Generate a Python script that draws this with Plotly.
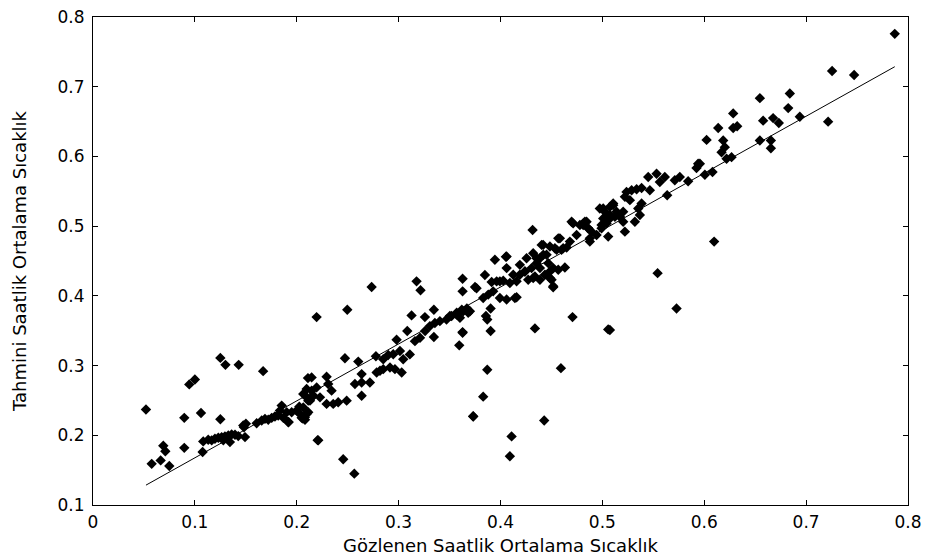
import plotly.graph_objects as go

# Observed (x) vs predicted (y) normalized hourly mean temperature
obs_x = [
    0.052, 0.125, 0.130, 0.143, 0.167, 0.211, 0.0945, 0.100, 0.0896, 0.106, 0.125,
    0.069, 0.071, 0.0896, 0.0576, 0.0664, 0.0749, 0.1076, 0.1475, 0.192, 0.206, 0.2205,
    0.2735, 0.3176, 0.3215, 0.3628, 0.3628, 0.375, 0.2195, 0.2496, 0.3127, 0.3258, 0.3346,
    0.3085, 0.298, 0.3346, 0.3628, 0.3595, 0.2473, 0.2604, 0.2777,
    0.2849, 0.2898, 0.2947, 0.3013, 0.3045, 0.311, 0.316, 0.321, 0.326, 0.3307, 0.3356,
    0.3405, 0.347, 0.352, 0.357, 0.362, 0.367, 0.370,
    0.2817, 0.2784, 0.2849, 0.2915, 0.2964, 0.303, 0.2637, 0.2571, 0.2637, 0.2718, 0.2637,
    0.2146, 0.2293, 0.2097, 0.2195, 0.2309, 0.2342, 0.2162, 0.2113, 0.2228, 0.2293, 0.2358,
    0.2407, 0.249, 0.2064, 0.208, 0.2031, 0.2211, 0.2456, 0.2565, 0.3732,
    0.4315, 0.3945, 0.4053, 0.3847, 0.3765, 0.3913, 0.3962, 0.4027, 0.4092, 0.383, 0.388,
    0.3928, 0.3994, 0.406, 0.4158, 0.3503, 0.3569, 0.3634, 0.3683, 0.3602, 0.3857, 0.387,
    0.3903, 0.3628, 0.3903, 0.4338, 0.4707, 0.5057, 0.387, 0.4593, 0.383, 0.3732, 0.4429,
    0.4109, 0.4092,
    0.419, 0.424, 0.4305, 0.4354, 0.4387, 0.4452, 0.4485, 0.4501, 0.4517, 0.4632, 0.4583,
    0.4419, 0.4551, 0.4615, 0.4681, 0.4713, 0.4812, 0.4845, 0.4877, 0.4943, 0.4992, 0.5008,
    0.5041, 0.5074, 0.4338, 0.4387, 0.4256, 0.4321,
    0.6023, 0.6186, 0.6202, 0.617, 0.6219, 0.594, 0.5924, 0.6006, 0.6081, 0.545, 0.5532,
    0.5564, 0.5613, 0.5711, 0.576, 0.5842, 0.5636, 0.5237, 0.5287, 0.5336, 0.5385, 0.5466,
    0.5221, 0.527, 0.5385, 0.5352, 0.5368, 0.5319, 0.4975, 0.5025, 0.5074, 0.5106, 0.5139,
    0.5204, 0.5008, 0.5074, 0.4992, 0.5041, 0.5123, 0.5204, 0.4812, 0.4861, 0.4877, 0.5057,
    0.5221, 0.6097, 0.5542, 0.5728, 0.5074,
    0.787, 0.7255, 0.7471, 0.6546, 0.684, 0.6824, 0.6284, 0.6137, 0.6284, 0.6323, 0.6578,
    0.6676, 0.6732, 0.6938, 0.7216, 0.6546, 0.6654, 0.6654, 0.6268, 0.5957,
    0.1082, 0.1131, 0.1165, 0.1197, 0.123, 0.1263, 0.1295, 0.1328, 0.1361, 0.1394, 0.1426,
    0.1344, 0.1279, 0.1492, 0.1482, 0.1501, 0.1606, 0.1656, 0.1688, 0.172, 0.1754, 0.1786,
    0.1818, 0.1835, 0.1852, 0.1868, 0.1917, 0.1901, 0.195, 0.1999, 0.2025, 0.2048, 0.2081,
    0.2097, 0.2113, 0.2064, 0.2097, 0.213, 0.2162, 0.2146,
    0.5106, 0.5172, 0.4698, 0.4779, 0.4828, 0.4861, 0.4747, 0.4894,
    0.4567, 0.4404, 0.4485, 0.4534, 0.4599, 0.4649, 0.4354, 0.442, 0.4469, 0.4518, 0.4567,
    0.4387, 0.4436, 0.4321, 0.4485, 0.4518, 0.406, 0.406, 0.4125, 0.419, 0.424, 0.4272,
    0.4158, 0.4141, 0.3994,
]
pred_y = [
    0.237, 0.311, 0.301, 0.301, 0.292, 0.282, 0.273, 0.280, 0.225, 0.232, 0.223,
    0.185, 0.177, 0.182, 0.159, 0.164, 0.156, 0.176, 0.214, 0.219, 0.224, 0.193,
    0.4127, 0.4208, 0.408, 0.4246, 0.4065, 0.4127, 0.3695, 0.380, 0.372, 0.3695, 0.380,
    0.3495, 0.337, 0.341, 0.348, 0.329, 0.3106, 0.3057, 0.3134,
    0.309, 0.3151, 0.3162, 0.321, 0.309, 0.316, 0.335, 0.340, 0.3495, 0.3566, 0.361,
    0.3637, 0.366, 0.371, 0.3757, 0.380, 0.382, 0.378,
    0.2925, 0.290, 0.2949, 0.2972, 0.2949, 0.290, 0.2878, 0.2735, 0.2758, 0.2758, 0.2568,
    0.283, 0.284, 0.2664, 0.2687, 0.2735, 0.264, 0.2568, 0.2497, 0.2544, 0.245, 0.245,
    0.2473, 0.2497, 0.240, 0.226, 0.2307, 0.1927, 0.1656, 0.145, 0.2273,
    0.4945, 0.4517, 0.456, 0.430, 0.411, 0.4198, 0.4208, 0.4218, 0.4184, 0.397, 0.4018,
    0.4065, 0.397, 0.3947, 0.398, 0.371, 0.3733, 0.378, 0.3756, 0.3685, 0.371, 0.366,
    0.3818, 0.347, 0.3495, 0.3533, 0.3695, 0.3519, 0.2939, 0.2963, 0.2554, 0.2269, 0.2212,
    0.1984, 0.1699,
    0.4303, 0.435, 0.4398, 0.4469, 0.454, 0.4589, 0.435, 0.4232, 0.4122, 0.4407, 0.4825,
    0.4731, 0.466, 0.4683, 0.4778, 0.5039, 0.5016, 0.5063, 0.4778, 0.4874, 0.4968, 0.5253,
    0.511, 0.5159, 0.4279, 0.4232, 0.454, 0.4611,
    0.6237, 0.6228, 0.6133, 0.6061, 0.5966, 0.5895, 0.5833, 0.5738, 0.5776, 0.5705, 0.5752,
    0.5634, 0.5705, 0.5658, 0.5705, 0.5644, 0.5444, 0.5491, 0.5515, 0.553, 0.5548, 0.5515,
    0.542, 0.5373, 0.5324, 0.5253, 0.5159, 0.5063, 0.5253, 0.5206, 0.5277, 0.5324, 0.5206,
    0.5206, 0.511, 0.511, 0.5016, 0.5039, 0.5135, 0.5063, 0.5039, 0.4968, 0.4825, 0.485,
    0.4921, 0.4778, 0.4326, 0.3819, 0.351,
    0.7758, 0.7226, 0.7169, 0.6836, 0.6903, 0.6693, 0.6617, 0.6408, 0.6408, 0.6432, 0.6513,
    0.655, 0.6479, 0.657, 0.6499, 0.6228, 0.6228, 0.6118, 0.599, 0.5895,
    0.1912, 0.1937, 0.1927, 0.1951, 0.1965, 0.1974, 0.1984, 0.1998, 0.2012, 0.2008, 0.1988,
    0.1902, 0.1927, 0.1974, 0.2116, 0.2165, 0.2173, 0.2212, 0.2236, 0.2222, 0.225, 0.2269,
    0.2283, 0.2354, 0.2426, 0.225, 0.2188, 0.233, 0.233, 0.2354, 0.2411, 0.225, 0.2222,
    0.2307, 0.233, 0.2593, 0.2544, 0.2497, 0.2568, 0.264,
    0.5301, 0.5135, 0.5063, 0.5016, 0.5063, 0.4968, 0.4874, 0.4921,
    0.4825, 0.4731, 0.4707, 0.4683, 0.466, 0.4693, 0.454, 0.4589, 0.4469, 0.4398, 0.4374,
    0.4398, 0.4303, 0.4256, 0.4256, 0.4138, 0.4564, 0.4398, 0.4303, 0.4445, 0.435, 0.4232,
    0.4208, 0.397, 0.4208,
]

# Regression line end points
fit_x = [0.052, 0.787]
fit_y = [0.1285, 0.7287]

x_ticks = [0, 0.1, 0.2, 0.3, 0.4, 0.5, 0.6, 0.7, 0.8]
y_ticks = [0.1, 0.2, 0.3, 0.4, 0.5, 0.6, 0.7, 0.8]

font_family = "DejaVu Sans, Arial, sans-serif"

fig = go.Figure()
fig.add_trace(go.Scatter(
    x=obs_x, y=pred_y, mode="markers",
    marker=dict(symbol="diamond", size=8, color="black", line=dict(width=0)),
    showlegend=False, hoverinfo="x+y",
))
fig.add_trace(go.Scatter(
    x=fit_x, y=fit_y, mode="lines",
    line=dict(color="black", width=1),
    showlegend=False,
))

axis_common = dict(
    showgrid=False, zeroline=False, showline=True, linecolor="black", linewidth=1,
    mirror="ticks", ticks="inside", ticklen=5, tickcolor="black", automargin=False,
    ticklabeloverflow="allow",
    tickfont=dict(family=font_family, size=17, color="black"),
)
fig.update_xaxes(
    range=[0, 0.8], tickvals=x_ticks, ticktext=[f"{v:g}" for v in x_ticks],
    title=dict(text="Gözlenen Saatlik Ortalama Sıcaklık",
               font=dict(family=font_family, size=18, color="black"), standoff=7),
    ticklabelstandoff=2,
    **axis_common,
)
fig.update_yaxes(
    range=[0.1, 0.8], tickvals=y_ticks, ticktext=[f"{v:g}" for v in y_ticks],
    title=dict(text="Tahmini Saatlik Ortalama Sıcaklık",
               font=dict(family=font_family, size=18, color="black"), standoff=26),
    ticklabelstandoff=4,
    **axis_common,
)
fig.update_layout(
    width=937, height=559,
    margin=dict(l=85, r=37, t=9, b=62),
    paper_bgcolor="white", plot_bgcolor="white",
    font=dict(family=font_family, color="black"),
)
fig.write_html("out.html")
